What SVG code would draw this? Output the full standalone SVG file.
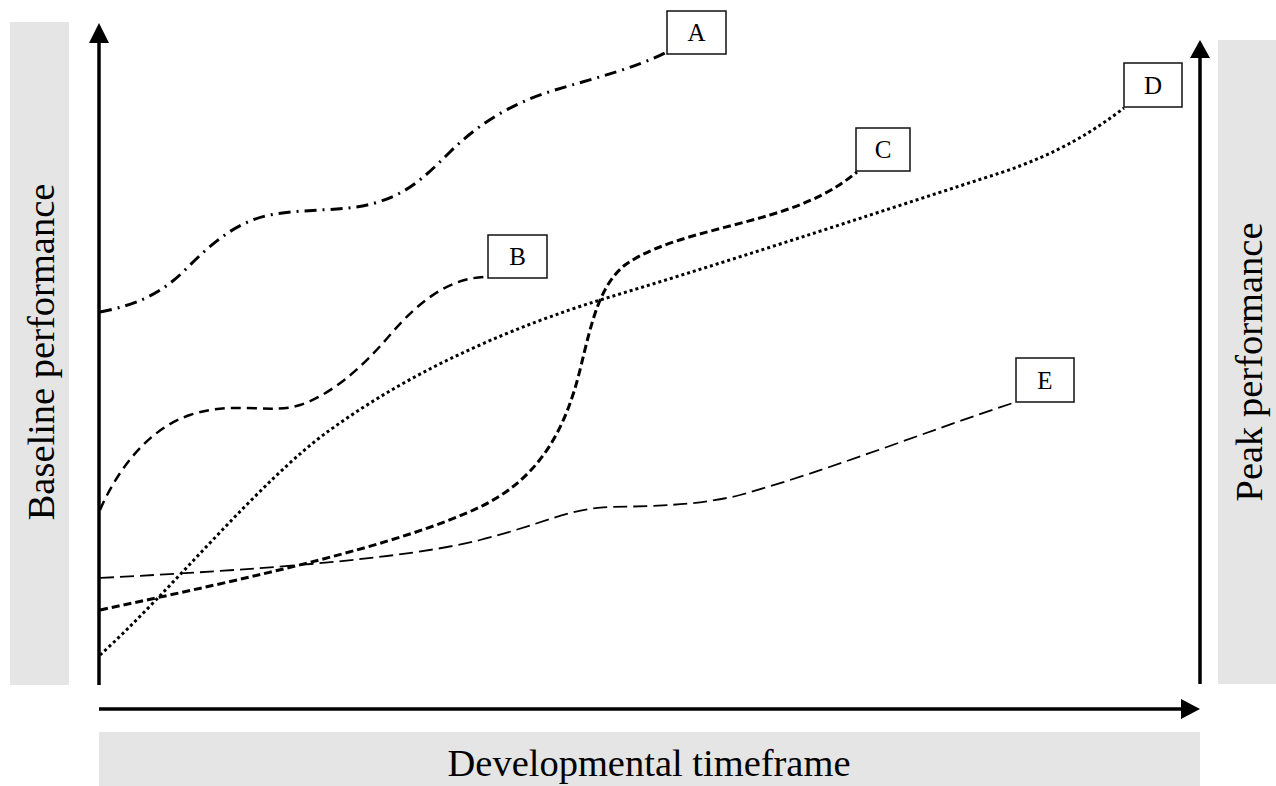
<svg xmlns="http://www.w3.org/2000/svg" width="1276" height="786" viewBox="0 0 1276 786">
<style>
.band{fill:#e5e5e5}
.axis{stroke:#000;stroke-width:3.5;fill:none}
.head{fill:#000}
.lbl{font-family:"Liberation Serif","Times New Roman",serif;font-size:38.5px;fill:#000}
.box{fill:#fff;stroke:#111;stroke-width:1.5}
.let{font-family:"Liberation Serif","Times New Roman",serif;font-size:25px;fill:#000;text-anchor:middle}
.crv{fill:none;stroke:#000}
</style>
<rect width="1276" height="786" fill="#fff"/>
<g id="axes">
<rect class="band" x="10" y="22" width="59" height="663"/>
<rect class="band" x="1218" y="40" width="58" height="644"/>
<rect class="band" x="99" y="732" width="1101" height="54"/>
<text class="lbl" text-anchor="middle" transform="translate(54,352) rotate(-90)">Baseline performance</text>
<text class="lbl" text-anchor="middle" transform="translate(1262,362) rotate(-90)">Peak performance</text>
<text class="lbl" text-anchor="middle" x="649" y="776">Developmental timeframe</text>
<line class="axis" x1="99" y1="40" x2="99" y2="685"/>
<polygon class="head" points="99,23 89,43 109,43"/>
<line class="axis" x1="1200" y1="55" x2="1200" y2="684"/>
<polygon class="head" points="1200,40 1190,58 1210,58"/>
<line class="axis" x1="99" y1="709" x2="1185" y2="709"/>
<polygon class="head" points="1200,709 1181,699 1181,719"/>
</g>
<g id="connectors">
<path class="crv" stroke-width="3" stroke-dasharray="12 6 2 6" d="M100,312 C135,305 160,295 185,270 S235,222 270,215 S345,212 375,203 S420,182 450,152 S515,102 555,90 S635,68 665,53"/>
<path class="crv" stroke-width="2.5" stroke-dasharray="10 6" d="M100,510 C115,475 145,430 190,415 S270,415 300,405 S360,370 390,335 S450,278 485,277"/>
<path class="crv" stroke-width="3" stroke-dasharray="8 4" d="M100,610 C250,578 400,545 480,507 C540,478 565,430 580,370 C592,320 600,285 625,265 C660,240 720,230 770,215 C810,203 835,190 857,172"/>
<path class="crv" stroke-width="3" stroke-dasharray="3 3" d="M100,655 C170,592 260,480 330,430 C420,365 520,325 600,300 C750,255 900,205 1000,173 C1060,153 1095,130 1124,108"/>
<path class="crv" stroke-width="1.8" stroke-dasharray="14 6" d="M100,578 C250,570 400,560 480,540 C540,525 570,508 610,507 C660,506 700,505 740,495 C830,470 930,430 1016,402"/>
</g>
<g id="A"><rect class="box" x="667" y="11" width="59" height="43"/><text class="let" x="696.5" y="41">A</text></g>
<g id="B"><rect class="box" x="488" y="235" width="59" height="43"/><text class="let" x="517.5" y="265">B</text></g>
<g id="C"><rect class="box" x="856" y="128" width="54" height="43"/><text class="let" x="883" y="158">C</text></g>
<g id="D"><rect class="box" x="1124" y="63" width="58" height="44"/><text class="let" x="1153" y="94">D</text></g>
<g id="E"><rect class="box" x="1016" y="358" width="58" height="44"/><text class="let" x="1045" y="389">E</text></g>
</svg>
